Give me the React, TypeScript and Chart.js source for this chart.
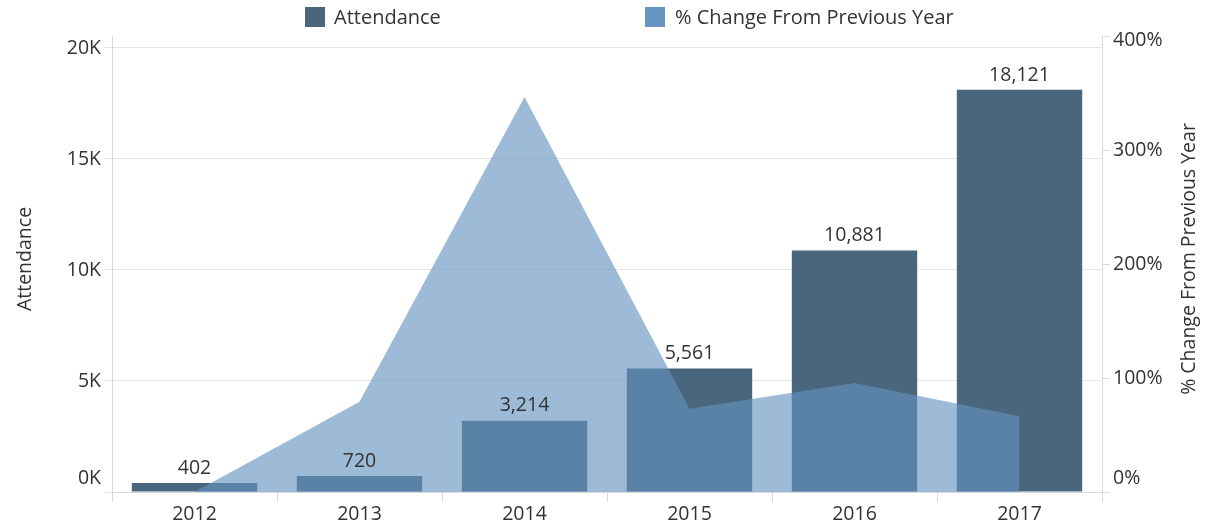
import React, { useEffect, useRef } from "react";
import { Chart, registerables } from "chart.js";

Chart.register(...registerables);

const years = ["2012", "2013", "2014", "2015", "2016", "2017"];
const attendance = [402, 720, 3214, 5561, 10881, 18121];
const pctChange = [0, 79.1, 346.4, 73.0, 95.7, 66.5];
const leftTicks = [0, 5000, 10000, 15000, 20000];
const rightTicks = [0, 100, 200, 300, 400];

const FONT = "'Open Sans', 'Noto Sans', sans-serif";
const FS = 19.5;
const BAR_COLOR = "#4a667c";
const AREA_COLOR = "rgba(99,147,190,0.63)";
const LEGEND_AREA = "#6696c0";
const TEXT = "#333333";

const customText = {
  id: "customText",
  afterDatasetsDraw(chart: any) {
    const ctx = chart.ctx;
    const meta = chart.getDatasetMeta(0);
    ctx.save();
    ctx.font = `${FS}px ${FONT}`;
    ctx.fillStyle = TEXT;
    ctx.textAlign = "center";
    ctx.textBaseline = "bottom";
    meta.data.forEach((el: any, i: number) => {
      ctx.fillText(attendance[i].toLocaleString("en-US"), el.x, el.y - 5);
    });
    ctx.restore();
  },
  afterDraw(chart: any) {
    const ctx = chart.ctx;
    const area = chart.chartArea;
    const yL = chart.scales.y;
    const yR = chart.scales.y1;
    ctx.save();
    ctx.font = `${FS}px ${FONT}`;
    ctx.fillStyle = TEXT;
    ctx.textBaseline = "middle";
    const clampY = (py: number) => Math.min(Math.max(py, area.top + 4), area.bottom - 14);
    ctx.textAlign = "right";
    leftTicks.forEach((v) => {
      ctx.fillText(`${v / 1000}K`, yL.right - 11, clampY(yL.getPixelForValue(v)));
    });
    ctx.textAlign = "left";
    rightTicks.forEach((v) => {
      ctx.fillText(`${v}%`, yR.left + 11, clampY(yR.getPixelForValue(v)));
    });
    const cy = (area.top + area.bottom) / 2 - 5;
    ctx.textAlign = "center";
    ctx.save();
    ctx.translate(25, cy);
    ctx.rotate(-Math.PI / 2);
    ctx.fillText("Attendance", 0, 0);
    ctx.restore();
    ctx.save();
    ctx.translate(1189, cy);
    ctx.rotate(-Math.PI / 2);
    ctx.fillText("% Change From Previous Year", 0, 0);
    ctx.restore();
    ctx.restore();
  },
};

export default function App() {
  const ref = useRef<HTMLCanvasElement | null>(null);
  useEffect(() => {
    if (!ref.current) return;
    const chart = new Chart(ref.current, {
      type: "bar",
      data: {
        labels: years,
        datasets: [
          {
            type: "bar",
            label: "Attendance",
            data: attendance,
            backgroundColor: BAR_COLOR,
            yAxisID: "y",
            order: 2,
            categoryPercentage: 1,
            barPercentage: 0.76,
          },
          {
            type: "line",
            label: "% Change From Previous Year",
            data: pctChange,
            yAxisID: "y1",
            order: 1,
            fill: "origin",
            backgroundColor: AREA_COLOR,
            borderWidth: 0,
            borderColor: "rgba(0,0,0,0)",
            pointRadius: 0,
            tension: 0,
          } as any,
        ],
      },
      plugins: [customText],
      options: {
        animation: false,
        responsive: false,
        maintainAspectRatio: false,
        layout: { padding: { top: 36, left: 0, right: 0, bottom: 0 } },
        plugins: {
          legend: { display: false },
          tooltip: { enabled: false },
        },
        scales: {
          x: {
            offset: true,
            grid: {
              offset: true,
              drawOnChartArea: false,
              tickLength: 10,
              color: "#d9d9d9",
            },
            border: { color: "#d9d9d9" },
            ticks: {
              color: TEXT,
              font: { family: FONT, size: FS },
              padding: 1,
              maxRotation: 0,
            },
            afterFit: (s: any) => {
              s.height = 32;
            },
          },
          y: {
            position: "left",
            min: 0,
            max: 20540,
            afterBuildTicks: (s: any) => {
              s.ticks = leftTicks.map((v) => ({ value: v }));
            },
            grid: { color: "#e6e6e6", tickLength: 8 },
            border: { color: "#d9d9d9" },
            ticks: { display: false },
            afterFit: (s: any) => {
              s.width = 112;
            },
          },
          y1: {
            position: "right",
            min: 0,
            max: 400,
            afterBuildTicks: (s: any) => {
              s.ticks = rightTicks.map((v) => ({ value: v }));
            },
            grid: { drawOnChartArea: false, color: "#d9d9d9", tickLength: 8 },
            border: { color: "#d9d9d9" },
            ticks: { display: false },
            afterFit: (s: any) => {
              s.width = 103;
            },
          },
        },
      },
    });
    return () => chart.destroy();
  }, []);

  const legendText: React.CSSProperties = {
    position: "absolute",
    top: 3,
    fontFamily: FONT,
    fontSize: 20,
    color: TEXT,
    lineHeight: "28px",
    whiteSpace: "nowrap",
  };
  const box = (left: number, color: string): React.CSSProperties => ({
    position: "absolute",
    left,
    top: 7,
    width: 20,
    height: 20,
    background: color,
  });

  return (
    <div
      style={{
        position: "absolute",
        left: 0,
        top: 0,
        width: 1205,
        height: 524,
        background: "#ffffff",
        overflow: "hidden",
      }}
    >
      <canvas ref={ref} width={1205} height={524} style={{ display: "block" }} />
      <div style={box(305, BAR_COLOR)} />
      <div style={{ ...legendText, left: 334 }}>Attendance</div>
      <div style={box(645, LEGEND_AREA)} />
      <div style={{ ...legendText, left: 675 }}>% Change From Previous Year</div>
    </div>
  );
}
